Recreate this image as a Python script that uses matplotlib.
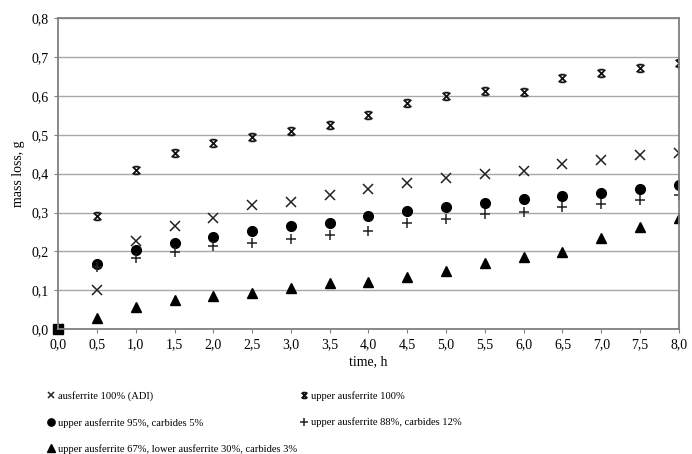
import matplotlib.pyplot as plt
from matplotlib.path import Path
from matplotlib.ticker import FuncFormatter

# data
time_h = [0.0, 0.5, 1.0, 1.5, 2.0, 2.5, 3.0, 3.5, 4.0, 4.5, 5.0, 5.5, 6.0, 6.5, 7.0, 7.5, 8.0]
adi = [0.0, 0.100, 0.226, 0.266, 0.285, 0.319, 0.327, 0.346, 0.360, 0.376, 0.388, 0.398, 0.407, 0.424, 0.435, 0.447, 0.453]
upper100 = [0.0, 0.291, 0.409, 0.452, 0.480, 0.495, 0.510, 0.525, 0.550, 0.582, 0.600, 0.613, 0.610, 0.645, 0.660, 0.673, 0.685]
upper95 = [0.0, 0.167, 0.203, 0.222, 0.237, 0.253, 0.266, 0.274, 0.291, 0.303, 0.315, 0.325, 0.334, 0.343, 0.351, 0.361, 0.372]
upper88 = [0.0, 0.160, 0.182, 0.199, 0.213, 0.222, 0.233, 0.242, 0.252, 0.272, 0.283, 0.295, 0.301, 0.313, 0.323, 0.331, 0.345]
upper67 = [0.0, 0.029, 0.057, 0.075, 0.085, 0.092, 0.105, 0.118, 0.122, 0.133, 0.149, 0.169, 0.186, 0.199, 0.235, 0.262, 0.287]

labels = ['ausferrite 100% (ADI)', 'upper ausferrite 100%',
          'upper ausferrite 95%, carbides 5%', 'upper ausferrite 88%, carbides 12%',
          'upper ausferrite 67%, lower ausferrite 30%, carbides 3%']

plt.rcParams['font.family'] = ['Liberation Serif', 'DejaVu Serif']

# x with caps top and bottom
star = Path([(-1, -1), (1, 1), (-1, 1), (1, -1), (-0.6, 1), (0.6, 1), (-0.6, -1), (0.6, -1)],
            [Path.MOVETO, Path.LINETO, Path.MOVETO, Path.LINETO,
             Path.MOVETO, Path.LINETO, Path.MOVETO, Path.LINETO])

fig = plt.figure(figsize=(6.92, 4.54), dpi=100)
ax = fig.add_axes([0.084, 0.275, 0.897, 0.685])

ax.grid(axis='y', color='#a8a8a8', linewidth=1)
ax.set_axisbelow(True)

h1, = ax.plot(time_h, adi, 'x', color='#222222', ms=6.5, mew=1.1, ls='none')
h2, = ax.plot(time_h, upper100, ls='none', marker=star, color='#111111', ms=5.5, mew=1.3)
h3, = ax.plot(time_h, upper95, 'o', color='black', ms=7, ls='none')
h4, = ax.plot(time_h, upper88, '+', color='#222222', ms=7, mew=1.1, ls='none')
h5, = ax.plot(time_h, upper67, '^', color='black', ms=7.5, ls='none')
ax.plot([0], [0], 's', color='black', ms=7, clip_on=False)

ax.set_xlim(0, 8)
ax.set_ylim(0, 0.8)
ax.set_xticks(time_h)
ax.set_yticks([i / 10 for i in range(9)])
comma = FuncFormatter(lambda v, p: f'{v:.1f}'.replace('.', ','))
ax.xaxis.set_major_formatter(comma)
ax.yaxis.set_major_formatter(comma)
ax.tick_params(labelsize=10, length=3, color='#808080', direction='out')
for s in ax.spines.values():
    s.set_color('#808080')
    s.set_linewidth(1.3)

ax.set_xlabel('time, h', fontsize=10, labelpad=3)
ax.set_ylabel('mass loss, g', fontsize=10, labelpad=5)

leg = fig.legend([h1, h3, h5, h2, h4], [labels[0], labels[2], labels[4], labels[1], labels[3]],
                 ncol=2, loc='upper left', bbox_to_anchor=(0.063, 0.148), frameon=False,
                 fontsize=7.6, markerscale=0.75, handlelength=0.6, handletextpad=0.4,
                 labelspacing=1.6, columnspacing=0.3, borderaxespad=0)

fig.savefig('out.png', dpi=100)
